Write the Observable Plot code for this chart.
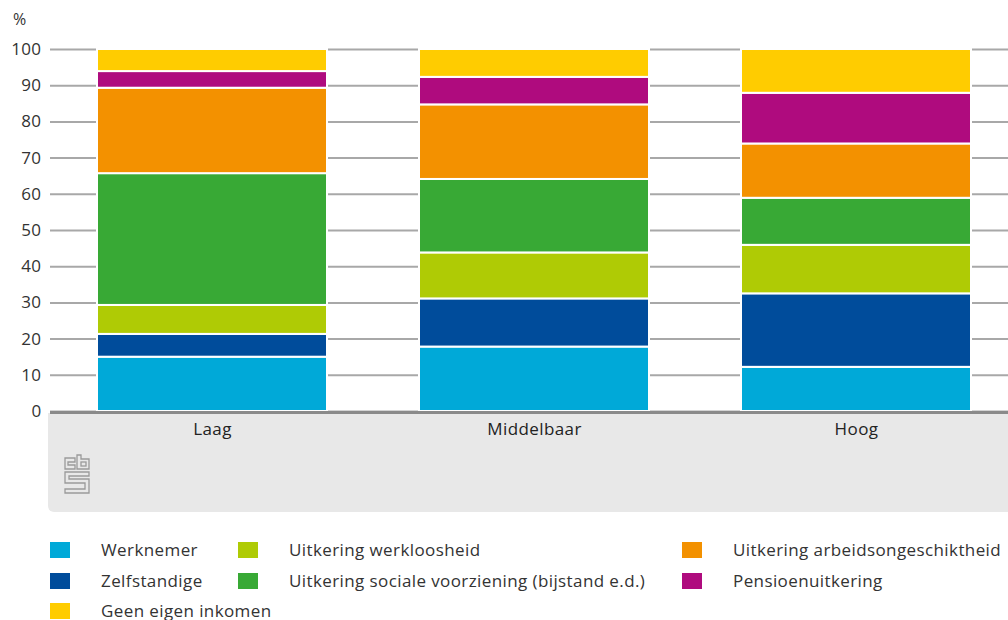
<!DOCTYPE html>
<html>
<head>
<meta charset="utf-8">
<script src="https://cdn.jsdelivr.net/npm/d3@7"></script>
<script src="https://cdn.jsdelivr.net/npm/@observablehq/plot@0.6"></script>
<style>
  html, body { margin: 0; padding: 0; background: #fff; }
  body { width: 1008px; height: 620px; position: relative; overflow: hidden; font-family: "Open Sans", sans-serif; color: #333; }
  #panel { position: absolute; left: 48px; top: 413px; width: 960px; height: 99px; background: #e8e8e8; border-bottom-left-radius: 6px; }
  #chart { position: absolute; left: 0; top: 0; }
  #unit { position: absolute; left: 13px; top: 8px; font-size: 16px; color: #333; }
  #logo { position: absolute; left: 62px; top: 454px; }
  .leg { position: absolute; font-size: 17px; letter-spacing: 0.4px; color: #333; white-space: nowrap; line-height: 20px; }
  .sw { position: absolute; width: 20px; height: 16px; }
</style>
</head>
<body>
<div id="panel"></div>
<div id="unit">%</div>
<svg id="logo" width="30" height="42" viewBox="0 0 30 42">
  <g fill="none" stroke="#9a9a9a" stroke-width="1.3">
    <path d="M3 4 H13 V8 H6 V11 H13 V15 H3 Z"/>
    <path d="M15 1 H19 V5 H27 V15 H15 Z"/>
    <rect x="19" y="8" width="5" height="4"/>
    <path d="M3 18 H27 V22 H7 V25 H27 V39 H3 V35 H23 V29 H3 Z"/>
  </g>
</svg>
<div id="chart"></div>
<div id="legend"></div>
<script>
const categories = ["Laag", "Middelbaar", "Hoog"];
const seriesNames = [
  "Werknemer",
  "Zelfstandige",
  "Uitkering werkloosheid",
  "Uitkering sociale voorziening (bijstand e.d.)",
  "Uitkering arbeidsongeschiktheid",
  "Pensioenuitkering",
  "Geen eigen inkomen"
];
const seriesColors = ["#00a9d8", "#004c9b", "#afcb05", "#38a935", "#f39100", "#af0b7e", "#ffcc00"];
const werknemer     = [15.0, 17.8, 12.2];
const zelfstandige  = [6.3, 13.3, 20.3];
const werkloosheid  = [8.0, 12.7, 13.4];
const bijstand      = [36.4, 20.3, 13.0];
const arbeidsongeschiktheid = [23.6, 20.6, 15.0];
const pensioen      = [4.6, 7.6, 14.0];
const geenInkomen   = [6.1, 7.7, 12.1];
const yTicks = [0, 10, 20, 30, 40, 50, 60, 70, 80, 90, 100];

const valueLists = [werknemer, zelfstandige, werkloosheid, bijstand, arbeidsongeschiktheid, pensioen, geenInkomen];
const data = [];
seriesNames.forEach((s, i) => {
  categories.forEach((c, j) => data.push({ category: c, series: s, value: valueLists[i][j] }));
});

const chart = Plot.plot({
  width: 1008,
  height: 450,
  marginLeft: 50,
  marginRight: 0,
  marginTop: 49,
  marginBottom: 39,
  style: { background: "transparent", fontFamily: "Open Sans, sans-serif", fontSize: "17px", letterSpacing: "0.4px", color: "#333" },
  x: { domain: categories, paddingInner: 0.287, paddingOuter: 0.127, align: 0.56, label: null },
  y: { domain: [0, 100], label: null },
  color: { domain: seriesNames, range: seriesColors },
  marks: [
    Plot.gridY(yTicks, { stroke: "#a8a8a8", strokeOpacity: 1, strokeWidth: 2 }),
    Plot.axisY(yTicks, { tickSize: 0, tickPadding: 9, fontSize: 17, fill: "#333", label: null }),
    Plot.axisX({ tickSize: 0, tickPadding: 11, fontSize: 17, fill: "#222", label: null }),
    Plot.barY(data, { x: "category", y: "value", fill: "series", stroke: "white", strokeWidth: 2 }),
    Plot.ruleY([0], { stroke: "#8a8a8a", strokeWidth: 3, dy: 1 })
  ]
});
document.getElementById("chart").appendChild(chart);

// legend
const legendPos = [
  [50, 550], [50, 581], [238, 550], [238, 581], [682, 550], [682, 581], [50, 611]
];
const legend = document.getElementById("legend");
seriesNames.forEach((s, i) => {
  const [x, y] = legendPos[i];
  const sw = document.createElement("div");
  sw.className = "sw";
  sw.style.left = x + "px";
  sw.style.top = (y - 8) + "px";
  sw.style.background = seriesColors[i];
  legend.appendChild(sw);
  const t = document.createElement("div");
  t.className = "leg";
  t.style.left = (x + 51) + "px";
  t.style.top = (y - 10) + "px";
  t.textContent = s;
  legend.appendChild(t);
});
</script>
</body>
</html>
